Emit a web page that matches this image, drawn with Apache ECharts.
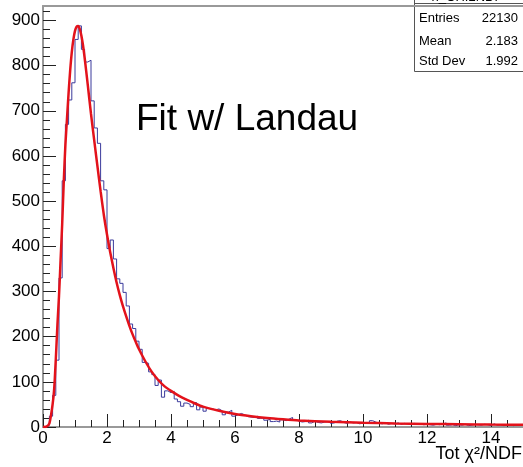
<!DOCTYPE html>
<html>
<head>
<meta charset="utf-8">
<script src="https://cdn.jsdelivr.net/npm/echarts@6/dist/echarts.min.js"></script>
<style>
html,body{margin:0;padding:0;background:#fff;}
#chart{width:523px;height:467px;}
</style>
</head>
<body>
<div id="chart"></div>
<script>
// ---- data ----
const binLow = 0;
const binWidth = 0.1;
const binCounts = [
  0, 4, 24, 70, 148, 330, 545, 670, 724, 762,
  858, 888, 836, 808, 812, 722, 662, 628, 545, 525,
  395, 414, 372, 328, 318, 298, 268, 228, 218, 190,
  172, 143, 141, 122, 116, 92, 104, 66, 80, 76,
  79, 62, 56, 46, 53, 50, 45, 54, 38, 44,
  35, 41, 40, 38, 40, 36, 27, 33, 37, 24,
  27, 30, 27, 23, 22, 21, 24, 19, 20, 15,
  17, 12, 13, 11, 16, 14, 18, 21, 16, 13,
  11, 12, 15, 9, 13, 10, 9, 11, 12, 8,
  9, 13, 14, 10, 8, 11, 9, 10, 7, 9,
  10, 8, 14, 11, 8, 7, 9, 6, 8, 7,
  9, 6, 8, 7, 5, 8, 6, 7, 5, 6,
  5, 4, 6, 5, 7, 9, 4, 5, 3, 5,
  4, 6, 3, 4, 6, 5, 4, 6, 5, 3,
  7, 4, 5, 3, 4, 5, 3, 4, 5, 3
];
const fitX = [0, 0.1, 0.2, 0.3, 0.35, 0.4, 0.45, 0.5, 0.55, 0.6, 0.65, 0.7, 0.75, 0.8, 0.85, 0.9, 0.95, 1.0, 1.05, 1.1, 1.15, 1.2, 1.25, 1.3, 1.35, 1.4, 1.5, 1.6, 1.7, 1.8, 1.9, 2.0, 2.1, 2.2, 2.3, 2.4, 2.5, 2.6, 2.7, 2.8, 2.9, 3.0, 3.2, 3.4, 3.6, 3.8, 4.0, 4.25, 4.5, 4.75, 5.0, 5.5, 6.0, 6.5, 7.0, 7.5, 8.0, 9.0, 10, 11, 12, 13, 14, 15];
const fitY = [0, 0.5, 8, 50, 85, 150, 225, 290, 370, 450, 545, 625, 683, 740, 790, 830, 858, 877, 886, 888, 881, 866, 845, 818, 788, 757, 693, 635, 578, 522, 470, 426, 387, 352, 320, 292, 267, 245, 224, 205, 188, 172, 145, 122, 104, 90, 80, 69, 60, 52, 45, 36, 29, 24, 20, 17, 14.5, 11.5, 9.5, 8, 6.8, 6, 5.3, 4.8];
const xMajorTicks = [0, 2, 4, 6, 8, 10, 12, 14];
const yMajorTicks = [0, 100, 200, 300, 400, 500, 600, 700, 800, 900];
const statsTitle = 'h_CHI2NDF';
const statsNames = ['Entries', 'Mean', 'Std Dev'];
const statsValues = ['22130', '2.183', '1.992'];
const xTitle = 'Tot \u03c7\u00b2/NDF';
const annotation = 'Fit w/ Landau';

// ---- build ----
const xMin = 0, xMax = 15, yMin = 0, yMax = 932;
const histData = binCounts.map((v, i) => [binLow + i * binWidth, v]);
histData.push([binLow + binCounts.length * binWidth, binCounts[binCounts.length - 1]]);
const fitData = fitX.map((x, i) => [x, fitY[i]]);
const xMinor = [];
for (let v = 0; v <= xMax; v += 0.5) xMinor.push(+v.toFixed(2));
const yMinor = [];
for (let v = 0; v <= yMax; v += 20) yMinor.push(v);

const FONT = 'Liberation Sans, Arial, Helvetica, sans-serif';
const chart = echarts.init(document.getElementById('chart'), null, {renderer: 'canvas'});
const gridBox = {left: 43, right: 0, top: 6, bottom: 40};

chart.setOption({
  animation: false,
  backgroundColor: '#ffffff',
  grid: Object.assign({outerBoundsMode: 'none', containLabel: false}, gridBox),
  xAxis: [
    {
      type: 'value', min: xMin, max: xMax, interval: 2, position: 'bottom',
      axisLine: {show: true, onZero: false, lineStyle: {color: '#999', width: 2}},
      axisTick: {show: true, inside: true, length: 13, customValues: xMajorTicks, lineStyle: {color: '#222', width: 1}},
      axisLabel: {show: true, customValues: xMajorTicks, margin: 3, color: '#000', fontSize: 17, fontFamily: FONT},
      splitLine: {show: false}
    },
    {
      type: 'value', min: xMin, max: xMax, position: 'bottom',
      axisLine: {show: false},
      axisTick: {show: true, inside: true, length: 7, customValues: xMinor, lineStyle: {color: '#222', width: 1}},
      axisLabel: {show: false},
      splitLine: {show: false}
    },
    {
      type: 'value', min: xMin, max: xMax, position: 'top',
      axisLine: {show: true, onZero: false, lineStyle: {color: '#999', width: 2}},
      axisTick: {show: false}, axisLabel: {show: false}, splitLine: {show: false}
    }
  ],
  yAxis: [
    {
      type: 'value', min: yMin, max: yMax, interval: 100, position: 'left',
      axisLine: {show: true, onZero: false, lineStyle: {color: '#999', width: 2}},
      axisTick: {show: true, inside: true, length: 13, customValues: yMajorTicks, lineStyle: {color: '#222', width: 1}},
      axisLabel: {show: true, customValues: yMajorTicks, margin: 3, color: '#000', fontSize: 17, fontFamily: FONT},
      splitLine: {show: false}
    },
    {
      type: 'value', min: yMin, max: yMax, position: 'left',
      axisLine: {show: false},
      axisTick: {show: true, inside: true, length: 7, customValues: yMinor, lineStyle: {color: '#222', width: 1}},
      axisLabel: {show: false},
      splitLine: {show: false}
    }
  ],
  series: [
    {
      type: 'line', name: 'hist', xAxisIndex: 0, yAxisIndex: 0,
      data: histData, step: 'end', showSymbol: false, symbol: 'none',
      lineStyle: {color: '#3b3b9c', width: 1}, z: 2, silent: true
    },
    {
      type: 'line', name: 'fit', xAxisIndex: 0, yAxisIndex: 0,
      data: fitData, smooth: 0.25, showSymbol: false, symbol: 'none',
      lineStyle: {color: '#e3121b', width: 2.5}, z: 3, silent: true
    }
  ],
  graphic: [
    {type: 'text', left: 136, top: 101, z: 10,
     style: {text: annotation, fill: '#000', font: '37px ' + FONT}},
    {type: 'text', right: 1, top: 445, z: 10,
     style: {text: xTitle, fill: '#000', font: '18px ' + FONT}},
    {type: 'group', z: 20, children: [
      {type: 'rect', shape: {x: 414.5, y: -10, width: 120, height: 81.5},
       style: {fill: '#fff', stroke: '#555', lineWidth: 1}},
      {type: 'line', shape: {x1: 414.5, y1: 3.5, x2: 530, y2: 3.5},
       style: {stroke: '#555', lineWidth: 1}},
      {type: 'text', x: 467, y: 3.5, style: {text: statsTitle, fill: '#000', font: '13px ' + FONT, textAlign: 'center', textVerticalAlign: 'bottom'}},
      {type: 'text', x: 419, y: 18, style: {text: statsNames[0], fill: '#000', font: '13px ' + FONT, textVerticalAlign: 'middle'}},
      {type: 'text', x: 518, y: 18, style: {text: statsValues[0], fill: '#000', font: '13px ' + FONT, textAlign: 'right', textVerticalAlign: 'middle'}},
      {type: 'text', x: 419, y: 41, style: {text: statsNames[1], fill: '#000', font: '13px ' + FONT, textVerticalAlign: 'middle'}},
      {type: 'text', x: 518, y: 41, style: {text: statsValues[1], fill: '#000', font: '13px ' + FONT, textAlign: 'right', textVerticalAlign: 'middle'}},
      {type: 'text', x: 419, y: 61, style: {text: statsNames[2], fill: '#000', font: '13px ' + FONT, textVerticalAlign: 'middle'}},
      {type: 'text', x: 518, y: 61, style: {text: statsValues[2], fill: '#000', font: '13px ' + FONT, textAlign: 'right', textVerticalAlign: 'middle'}}
    ]}
  ]
});
</script>
</body>
</html>
